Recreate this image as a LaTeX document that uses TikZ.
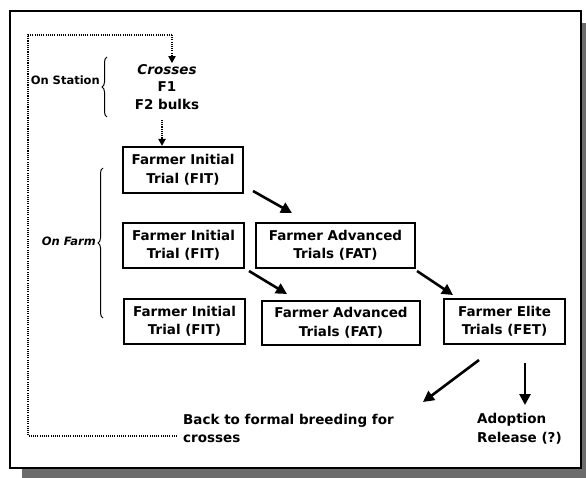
\documentclass[tikz,border=0pt]{standalone}
\usepackage{fontspec}
\setmainfont{DejaVu Sans}
\usetikzlibrary{arrows.meta,decorations.pathreplacing}
\begin{document}
\begin{tikzpicture}[x=1pt,y=-1pt,
  boxtext/.style={font=\fontsize{13.5}{18.5}\selectfont\bfseries, align=center},
  trialbox/.style={draw, line width=2pt, rectangle, boxtext, inner sep=0pt},
  bigarrow/.style={line width=2.6pt, -{Triangle[length=11pt,width=11pt]}},
  dotline/.style={line width=1.8pt, dash pattern=on 1.1pt off 1.1pt},
  dottip/.style={-{Triangle[length=7pt,width=7pt]}},
  bracestyle/.style={decorate, decoration={brace, amplitude=5pt}, line width=1pt},
  sidelabel/.style={font=\fontsize{11.5}{14}\selectfont\bfseries, inner sep=0pt, anchor=east}]
\useasboundingbox (0,0) rectangle (586,478);
% shadow and frame
\fill[gray!85!black] (22,469) rectangle (586,478);
\fill[gray!85!black] (582,23) rectangle (586,478);
\draw[line width=2pt, fill=white] (10,11) rectangle (581,468);

% station part
\node[boxtext, font=\fontsize{13.5}{17.5}\selectfont\bfseries, inner sep=0pt] (cross) at (167,87) {\textit{Crosses}\\F1\\F2 bulks};
\node[sidelabel] (station) at (100,80) {On Station};
\draw[bracestyle] (107,117) -- (107,57);

% trial boxes
\node[trialbox, minimum width=120pt, minimum height=46pt] (fit1) at (183,170) {Farmer Initial\\Trial (FIT)};
\node[trialbox, minimum width=121pt, minimum height=45pt] (fit2) at (183.5,245.5) {Farmer Initial\\Trial (FIT)};
\node[trialbox, minimum width=159pt, minimum height=45pt] (fat1) at (335.5,245.5) {Farmer Advanced\\Trials (FAT)};
\node[trialbox, minimum width=121pt, minimum height=45pt] (fit3) at (184.5,321.5) {Farmer Initial\\Trial (FIT)};
\node[trialbox, minimum width=158pt, minimum height=44pt] (fat2) at (341,323) {Farmer Advanced\\Trials (FAT)};
\node[trialbox, minimum width=121pt, minimum height=45pt] (fet) at (504.5,321.5) {Farmer Elite\\Trials (FET)};

\node[sidelabel] (farm) at (96,241) {\itshape On Farm};
\draw[bracestyle] (103,318) -- (103,168);

% outcomes
\node[boxtext, align=left, anchor=west, inner sep=0pt] (back) at (183,428.5) {Back to formal breeding for\\crosses};
\node[boxtext, align=left, anchor=west, inner sep=0pt] (adopt) at (477,429) {Adoption\\Release (?)};
\coordinate (backtip) at (423,402);
\coordinate (adopttip) at (525,405);

% arrows
\draw[bigarrow] ([shift={(9,-3)}]fit1.south east) -- ([shift={(37,-9)}]fat1.north west);
\draw[bigarrow] ([shift={(4,2)}]fit2.south east) -- ([shift={(26,-6)}]fat2.north west);
\draw[bigarrow] ([shift={(1,2)}]fat1.south east) -- ([shift={(10,-3)}]fet.north west);
\draw[bigarrow] ([shift={(-25.5,15)}]fet.south) -- (backtip);
\draw[bigarrow] ([shift={(20.5,18)}]fet.south) -- (adopttip);

% dotted connections
\draw[dotline, dottip] ([shift={(-5,10)}]cross.south) -- (fit1.north -| 162,0);
\draw[dotline] ([shift={(-6,7.5)}]back.west) -- (28,436) -- (28,35) -- (172,35);
\draw[dotline, dottip] (172,35) -- ([shift={(5,-1)}]cross.north);
\end{tikzpicture}
\end{document}
